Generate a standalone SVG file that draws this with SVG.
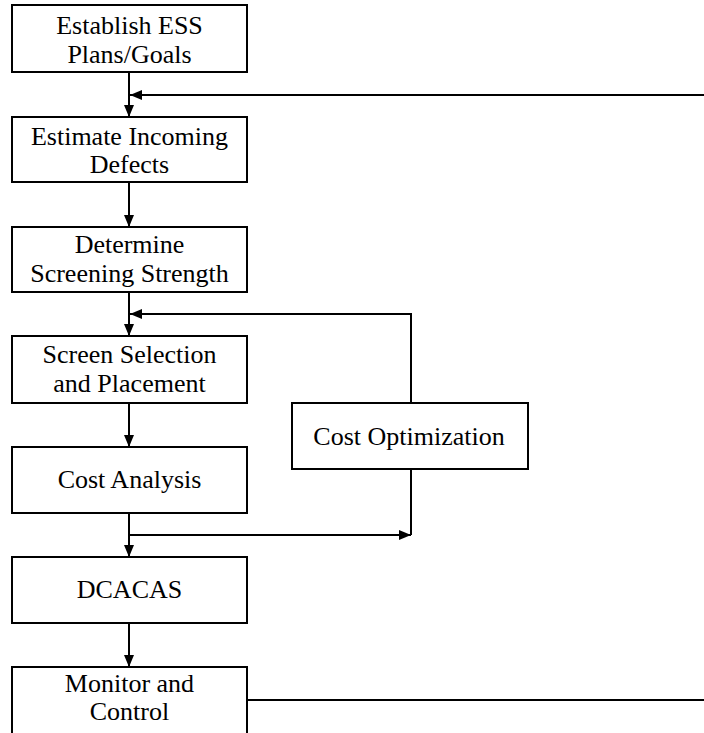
<svg xmlns="http://www.w3.org/2000/svg" width="704" height="733" viewBox="0 0 704 733">
<defs>
<marker id="ah" viewBox="0 0 12 10" refX="12" refY="5" markerWidth="12" markerHeight="10" markerUnits="userSpaceOnUse" orient="auto">
<path d="M0,0 L12,5 L0,10 Z" fill="#000"/>
</marker>
</defs>
<style>
.box{fill:#fff;stroke:#000;stroke-width:2}
.lbl{font-family:'Liberation Serif','Times New Roman',serif;font-size:26px;fill:#000;text-anchor:middle}
.c{fill:none;stroke:#000;stroke-width:2}
.ca{fill:none;stroke:#000;stroke-width:2;marker-end:url(#ah)}
</style>
<rect width="704" height="733" fill="#fff"/>
<g id="connectors">
<path class="ca" d="M129,72 V117"/>
<path class="ca" d="M129,182 V227"/>
<path class="ca" d="M129,292 V336"/>
<path class="ca" d="M129,403 V447"/>
<path class="ca" d="M129,513 V557"/>
<path class="ca" d="M129,623 V667"/>
<path class="ca" d="M247,700 H707 V95 H130"/>
<path class="ca" d="M411,403 V314 H130"/>
<path class="ca" d="M129,535 H411"/>
<path class="c" d="M411,469 V535"/>
</g>
<g id="n1"><rect class="box" x="12" y="5" width="235" height="67"/>
<text class="lbl" x="129.5" y="34">Establish ESS</text><text class="lbl" x="129.5" y="63">Plans/Goals</text></g>
<g id="n2"><rect class="box" x="12" y="117" width="235" height="65"/>
<text class="lbl" x="129.5" y="145">Estimate Incoming</text><text class="lbl" x="129.5" y="173">Defects</text></g>
<g id="n3"><rect class="box" x="12" y="227" width="235" height="65"/>
<text class="lbl" x="129.5" y="253">Determine</text><text class="lbl" x="129.5" y="282">Screening Strength</text></g>
<g id="n4"><rect class="box" x="12" y="336" width="235" height="67"/>
<text class="lbl" x="129.5" y="363">Screen Selection</text><text class="lbl" x="129.5" y="392">and Placement</text></g>
<g id="n5"><rect class="box" x="12" y="447" width="235" height="66"/>
<text class="lbl" x="129.5" y="488">Cost Analysis</text></g>
<g id="n6"><rect class="box" x="12" y="557" width="235" height="66"/>
<text class="lbl" x="129.5" y="598">DCACAS</text></g>
<g id="n7"><rect class="box" x="12" y="667" width="235" height="67"/>
<text class="lbl" x="129.5" y="692">Monitor and</text><text class="lbl" x="129.5" y="720">Control</text></g>
<g id="n8"><rect class="box" x="292" y="403" width="236" height="66"/>
<text class="lbl" x="409" y="445">Cost Optimization</text></g>
</svg>
